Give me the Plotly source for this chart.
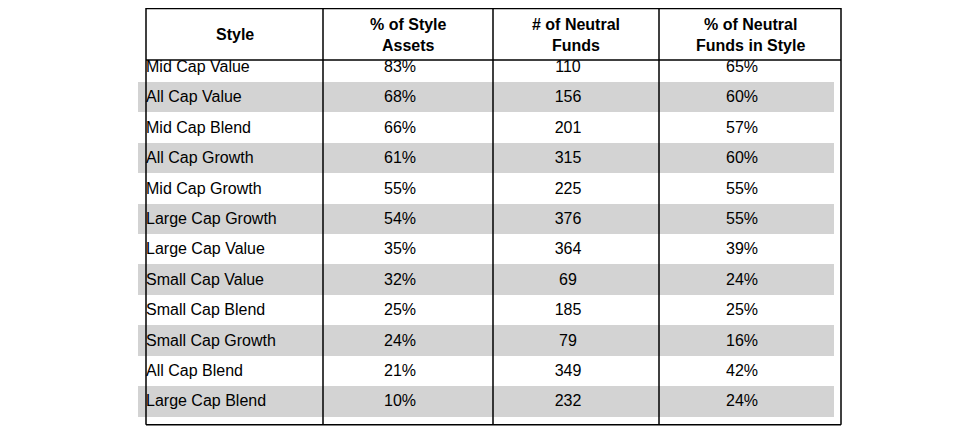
import plotly.graph_objects as go

headers = ["<b>Style</b>", "<b>% of Style<br>Assets</b>", "<b># of Neutral<br>Funds</b>", "<b>% of Neutral<br>Funds in Style</b>"]
styles = ["Mid Cap Value", "All Cap Value", "Mid Cap Blend", "All Cap Growth", "Mid Cap Growth",
          "Large Cap Growth", "Large Cap Value", "Small Cap Value", "Small Cap Blend",
          "Small Cap Growth", "All Cap Blend", "Large Cap Blend"]
pct_assets = ["83%", "68%", "66%", "61%", "55%", "54%", "35%", "32%", "25%", "24%", "21%", "10%"]
n_funds = ["110", "156", "201", "315", "225", "376", "364", "69", "185", "79", "349", "232"]
pct_funds = ["65%", "60%", "57%", "60%", "55%", "55%", "39%", "24%", "25%", "16%", "42%", "24%"]

W, H = 975, 446
col_px = [138, 315, 485, 651, 833]
off = 8  # internal table offset
head_h, row_h = 52, 30.4
bottom_px = head_h + row_h * len(styles)

fills = ["white" if i % 2 == 0 else "#d3d3d3" for i in range(len(styles))]
font = dict(family="Liberation Sans, Arial", size=16, color="black")

fig = go.Figure(go.Table(
    domain=dict(x=[(col_px[0] - off) / W, (col_px[-1] - off) / W], y=[0, 1]),
    columnwidth=[col_px[i + 1] - col_px[i] for i in range(4)],
    header=dict(values=["", "", "", ""], height=head_h - off,
                fill_color="white", line=dict(color="white", width=1), font=font),
    cells=dict(values=[styles, pct_assets, n_funds, pct_funds],
               align=["left", "center", "center", "center"], height=row_h,
               fill_color=[fills] * 4, line=dict(color=[fills] * 4, width=1), font=font),
))

def py(p):
    return 1 - p / H

annotations = []
for i, h in enumerate(headers):
    annotations.append(dict(xref="paper", yref="paper", x=(col_px[i] + col_px[i + 1]) / 2 / W,
                            y=py(head_h / 2 + 1), text=h, showarrow=False, align="center",
                            xanchor="center", yanchor="middle", font=font))

shapes = []
for x in col_px:
    shapes.append(dict(type="line", xref="paper", yref="paper", x0=x / W, x1=x / W,
                       y0=py(0), y1=py(bottom_px), line=dict(color="black", width=1.5)))
for y in [0.5, head_h, bottom_px]:
    shapes.append(dict(type="line", xref="paper", yref="paper", x0=col_px[0] / W, x1=col_px[-1] / W,
                       y0=py(y), y1=py(y), line=dict(color="black", width=1.5)))

fig.update_layout(width=W, height=H, margin=dict(l=0, r=0, t=0, b=0),
                  paper_bgcolor="white", shapes=shapes, annotations=annotations)
fig.write_html("out.html")
